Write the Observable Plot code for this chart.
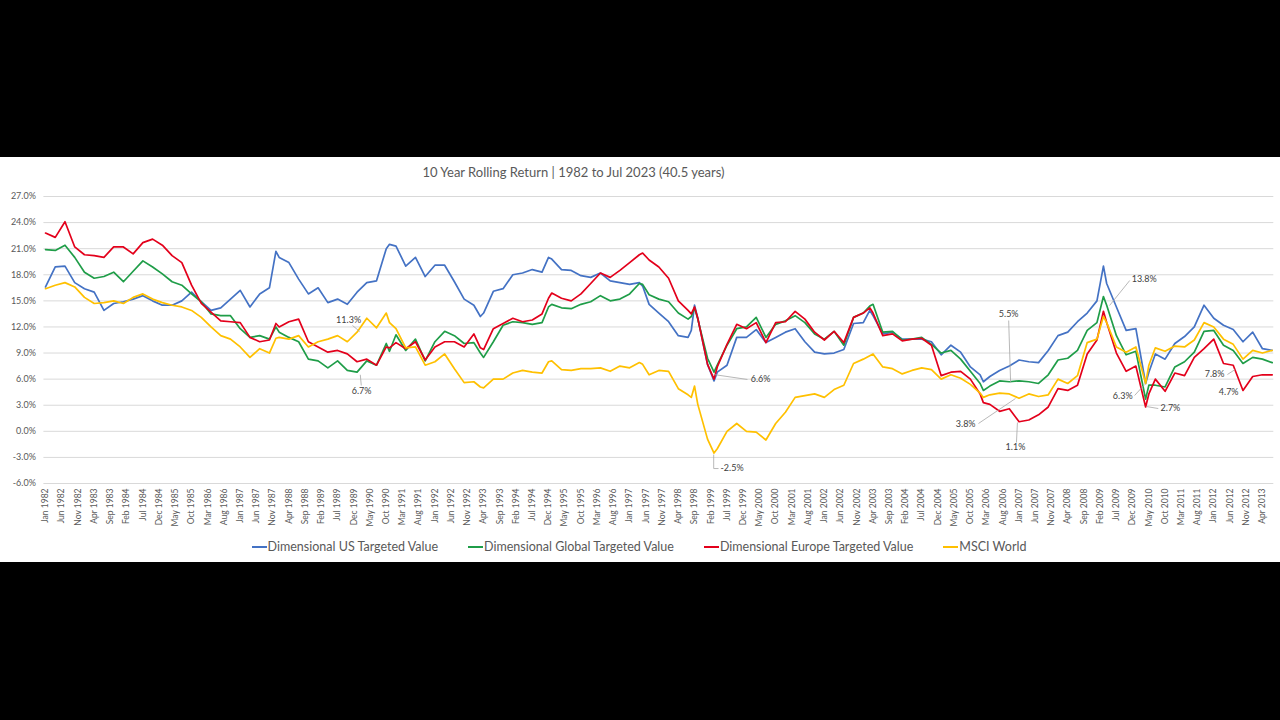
<!DOCTYPE html>
<html><head><meta charset="utf-8">
<script src="https://cdn.jsdelivr.net/npm/d3@7"></script>
<script src="https://cdn.jsdelivr.net/npm/@observablehq/plot@0.6"></script>
<style>
html,body{margin:0;padding:0;background:#000;width:1280px;height:720px;overflow:hidden;font-family:Lato,"Open Sans",sans-serif;}
#panel{position:absolute;left:0;top:157px;width:1280px;height:405px;background:#fff;}
#title{position:absolute;top:7px;left:0;width:1147px;text-align:center;font-size:13px;color:#595959;white-space:nowrap;}
#chart{position:absolute;top:0;left:0;}
#legend{position:absolute;top:382px;left:0;width:1278px;display:flex;justify-content:center;gap:30px;font-size:12.5px;color:#595959;white-space:nowrap;}
.item{display:flex;align-items:center;}
.sw{display:inline-block;width:15px;height:2px;margin-right:1px;}
</style></head>
<body>
<div id="panel">
  <div id="chart"></div>
  <div id="title">10 Year Rolling Return | 1982 to Jul 2023 (40.5 years)</div>
  <div id="legend"></div>
</div>
<script>
// month index from Jan 1982 (0 = Jan 1982)
const months = [
 0,3,6,9,12,15,18,21,24,27,30,33,36,39,42,45,48,51,54,57,60,63,66,69,71,72,75,78,81,84,87,90,93,
 96,99,102,105,106,108,111,114,117,120,123,126,129,132,134,135,138,141,144,147,150,153,155,156,159,162,165,168,171,174,177,180,183,184,186,
 189,192,195,198,199,200,201,204,206,207,210,213,216,219,222,225,228,231,234,237,240,243,246,249,252,254,255,258,261,264,267,270,273,276,279,282,
 285,288,289,291,294,297,300,303,306,309,312,315,318,321,324,326,327,330,333,336,339,340,342,345,348,351,354,357,360,363,366,369,372,375,378
];
const usTargetedValue = [
 16.6,18.9,19.0,17.1,16.4,16.0,13.9,14.7,14.9,15.2,15.6,15.0,14.5,14.5,15.0,16.0,14.9,13.9,14.2,15.2,16.2,14.3,15.8,16.5,20.7,20.0,19.4,17.5,15.8,16.5,14.8,15.2,14.6,
 16.0,17.1,17.3,21.0,21.5,21.3,19.0,20.0,17.8,19.1,19.1,17.2,15.2,14.5,13.2,13.6,16.1,16.4,18.0,18.2,18.6,18.3,20.0,19.8,18.6,18.5,17.9,17.7,18.2,17.3,17.1,16.9,17.1,16.7,14.6,
 13.6,12.6,11.0,10.8,11.6,14.5,13.0,7.7,5.8,6.8,7.6,10.8,10.8,11.7,10.2,10.8,11.4,11.8,10.3,9.1,8.9,9.0,9.4,12.4,12.5,13.9,13.3,11.2,11.4,10.6,10.6,10.6,10.3,8.8,9.9,9.1,
 7.4,6.5,5.7,6.3,7.0,7.5,8.2,8.0,7.9,9.3,11.0,11.4,12.6,13.6,15.0,19.0,17.0,14.3,11.6,11.8,5.5,6.8,8.9,8.3,10.1,10.9,12.0,14.5,13.0,12.2,11.7,10.3,11.4,9.5,9.3
];
const globalTargetedValue = [
 20.9,20.8,21.4,20.0,18.3,17.6,17.8,18.3,17.2,18.4,19.6,18.9,18.1,17.2,16.8,15.8,14.9,13.5,13.3,13.3,11.8,10.8,11.0,10.6,12.0,11.4,10.8,10.3,8.3,8.1,7.3,8.1,7.0,
 6.8,8.1,7.6,10.1,9.2,11.1,9.3,10.6,8.1,10.3,11.5,11.0,10.1,10.2,9.0,8.5,10.3,12.2,12.6,12.5,12.3,12.5,14.3,14.6,14.2,14.1,14.6,14.9,15.6,15.0,15.2,15.8,17.0,16.9,15.7,
 15.2,14.9,13.6,12.9,13.2,14.2,12.9,8.4,6.8,7.6,9.9,11.8,12.0,13.1,10.8,12.3,12.7,13.3,12.5,11.2,10.6,11.5,9.9,13.1,13.6,14.4,14.6,11.4,11.5,10.5,10.6,10.8,10.0,9.0,9.3,8.3,
 6.9,5.5,4.7,5.2,5.8,5.7,5.8,5.7,5.5,6.5,8.2,8.4,9.3,11.6,12.5,15.5,14.5,11.0,8.8,9.2,3.7,5.3,5.3,5.1,7.4,8.0,9.1,11.5,11.6,9.9,9.3,7.8,8.5,8.3,7.9
];
const europeTargetedValue = [
 22.8,22.3,24.1,21.2,20.3,20.2,20.0,21.2,21.2,20.4,21.7,22.1,21.4,20.2,19.4,16.8,14.7,13.7,12.7,12.6,12.5,10.8,10.3,10.5,12.4,12.0,12.6,12.9,10.3,9.7,9.1,9.3,8.9,
 8.0,8.3,7.6,9.7,9.6,10.2,9.5,10.3,8.2,9.7,10.3,10.3,9.7,11.2,9.6,9.4,11.8,12.4,13.0,12.6,12.8,13.5,15.3,15.9,15.3,15.0,15.8,17.0,18.2,17.7,18.5,19.4,20.3,20.5,19.7,
 18.9,17.6,15.0,13.9,13.5,14.3,13.0,7.7,6.0,7.4,10.0,12.3,11.8,12.5,10.2,12.5,12.6,13.8,12.9,11.4,10.5,11.5,10.2,13.1,13.6,14.2,13.6,11.0,11.2,10.4,10.6,10.7,9.9,6.4,6.8,6.9,
 6.0,4.3,3.3,3.1,2.3,2.6,1.1,1.3,1.9,2.8,4.9,4.7,5.3,8.9,10.5,13.8,12.5,9.0,6.9,7.5,2.8,4.3,6.0,4.6,6.7,6.4,8.5,9.5,10.6,7.8,7.6,4.7,6.3,6.5,6.5
];
const msciWorld = [
 16.4,16.8,17.1,16.6,15.4,14.7,14.8,15.0,14.7,15.4,15.8,15.2,14.8,14.5,14.3,13.9,13.1,12.0,11.0,10.6,9.7,8.5,9.5,9.0,10.7,10.8,10.6,11.0,9.7,10.3,10.6,11.0,10.3,
 11.4,13.0,11.9,13.6,12.5,11.8,9.6,9.7,7.6,8.0,8.9,7.2,5.6,5.7,5.1,5.0,6.0,6.0,6.7,7.0,6.8,6.7,8.0,8.1,7.1,7.0,7.2,7.2,7.3,6.9,7.5,7.3,7.9,7.7,6.5,
 7.0,6.9,4.9,4.2,3.9,5.2,3.1,-0.9,-2.5,-2.0,0.0,0.9,0.0,-0.1,-1.0,0.9,2.2,3.9,4.1,4.3,3.9,4.8,5.3,7.8,8.3,8.7,8.9,7.4,7.2,6.6,7.0,7.3,7.1,6.0,6.5,6.1,
 5.4,4.4,3.9,4.2,4.4,4.3,3.8,4.3,4.0,4.2,6.0,5.5,6.4,10.2,10.6,13.2,12.5,9.7,9.1,9.7,5.5,7.6,9.6,9.2,9.8,9.7,10.5,12.5,12.0,10.6,10.0,8.3,9.3,9.0,9.3
];
const seriesNames = ["Dimensional US Targeted Value","Dimensional Global Targeted Value","Dimensional Europe Targeted Value","MSCI World"];
const seriesValues = [usTargetedValue, globalTargetedValue, europeTargetedValue, msciWorld];
const seriesColors = ["#4472c4","#1f9d48","#e3001b","#ffc000"];

const monthNames = ["Jan","Feb","Mar","Apr","May","Jun","Jul","Aug","Sep","Oct","Nov","Dec"];
const tickMonths = d3.range(0, 376, 5);
const yTicks = d3.range(-6, 28, 3);

// data labels: text, text anchor position (month, value), alignment
const annLabels = ["11.3%","6.7%","6.6%","-2.5%","5.5%","13.8%","3.8%","1.1%","6.3%","2.7%","7.8%","4.7%"];
const annTextM  = [93.4, 97.4, 217.3, 208.0, 296.8, 334.7, 286.6, 298.9, 335.0, 343.6, 363.3, 364.6];
const annTextV  = [12.74, 4.58, 5.96, -4.28, 13.43, 17.46, 0.78, -1.86, 4.0, 2.62, 6.53, 4.46];
const annAnchor = ["middle","middle","start","start","middle","start","end","middle","end","start","end","middle"];
// leader lines [m1, v1, m2, v2]
const leaders = [
 [96.8,11.48,94.6,12.17],[97,6.5,97.3,5.27],[205.9,6.53,216.3,5.96],
 [205.9,-2.67,205.9,-4.28],[205.9,-4.28,207.4,-4.28],[296.8,12.74,297.4,5.61],
 [334.1,17.34,327.9,14.47],[287.5,0.9,298.9,3.77],[299.5,1.01,299.2,-1.29],
 [335.6,4.12,338.7,5.38],[339.3,2.85,342.9,2.62],[364.2,6.53,366.6,7.11]
];

const rows = [];
seriesNames.forEach((s, i) => months.forEach((m, j) => rows.push({series: s, m, v: seriesValues[i][j]})));
const ann = annLabels.map((t, i) => ({t, m: annTextM[i], v: annTextV[i], a: annAnchor[i]}));
const lead = leaders.map(d => ({x1: d[0], y1: d[1], x2: d[2], y2: d[3]}));

const H = 378;
const chart = Plot.plot({
  width: 1280, height: H,
  marginLeft: 43.4, marginRight: 6.7, marginTop: 39, marginBottom: H - 326,
  style: {fontFamily: "Lato, 'Open Sans', sans-serif", color: "#595959", background: "transparent"},
  x: {domain: [-0.5, 378.5]},
  y: {domain: [-6, 27]},
  marks: [
    Plot.gridY(yTicks, {stroke: "#d9d9d9", strokeOpacity: 1, strokeWidth: 1}),
    Plot.axisY(yTicks, {tickSize: 0, tickPadding: 8, fontSize: 9, fill: "#595959", label: null,
      tickFormat: d => d.toFixed(1) + "%"}),
    Plot.axisX(tickMonths, {tickSize: 0, tickPadding: 5, tickRotate: -90, fontSize: 8.5, fill: "#595959", label: null,
      tickFormat: m => monthNames[m % 12] + " " + (1982 + Math.floor(m / 12))}),
    ...seriesNames.map((s, i) => Plot.line(rows.filter(r => r.series === s),
      {x: "m", y: "v", stroke: seriesColors[i], strokeWidth: 1.7, curve: "linear"})),
    Plot.link(lead, {x1: "x1", y1: "y1", x2: "x2", y2: "y2", stroke: "#a6a6a6", strokeWidth: 0.8}),
    Plot.text(ann.filter(d => d.a === "middle"), {x: "m", y: "v", text: "t", fontSize: 9, fill: "#404040", textAnchor: "middle"}),
    Plot.text(ann.filter(d => d.a === "start"), {x: "m", y: "v", text: "t", fontSize: 9, fill: "#404040", textAnchor: "start"}),
    Plot.text(ann.filter(d => d.a === "end"), {x: "m", y: "v", text: "t", fontSize: 9, fill: "#404040", textAnchor: "end"})
  ]
});
document.getElementById("chart").appendChild(chart);

const legend = document.getElementById("legend");
seriesNames.forEach((s, i) => {
  const it = document.createElement("div"); it.className = "item";
  const sw = document.createElement("span"); sw.className = "sw"; sw.style.background = seriesColors[i];
  const tx = document.createElement("span"); tx.textContent = s;
  it.appendChild(sw); it.appendChild(tx); legend.appendChild(it);
});
</script>
</body></html>
